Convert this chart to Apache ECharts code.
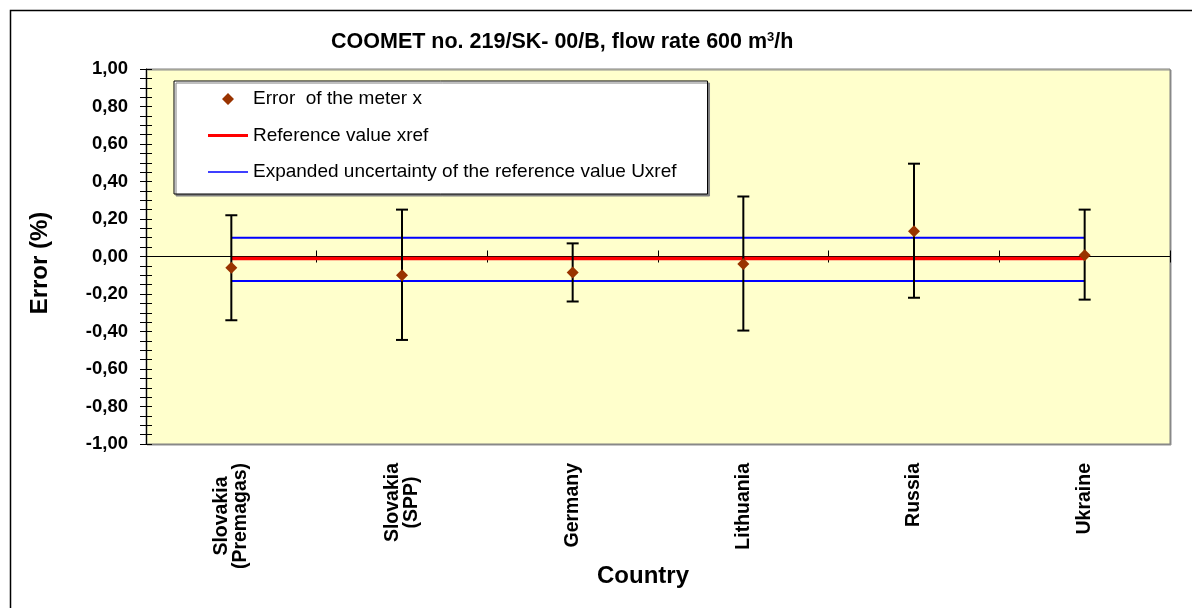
<!DOCTYPE html>
<html>
<head>
<meta charset="utf-8">
<script src="https://cdn.jsdelivr.net/npm/echarts@6/dist/echarts.min.js"></script>
<style>html,body{margin:0;padding:0;background:#fff;}#chart{width:1192px;height:608px;}</style>
</head>
<body>
<div id="chart"></div>
<script>
const categories = ['Slovakia\n(Premagas)', 'Slovakia\n(SPP)', 'Germany', 'Lithuania', 'Russia', 'Ukraine'];
const meterError = [-0.06, -0.10, -0.085, -0.04, 0.135, 0.007];
const errLow = [-0.34, -0.445, -0.24, -0.395, -0.22, -0.23];
const errHigh = [0.22, 0.25, 0.07, 0.32, 0.495, 0.25];
const xrefValues = [-0.01, -0.01, -0.01, -0.01, -0.01, -0.01];
const uxrefUpper = [0.10, 0.10, 0.10, 0.10, 0.10, 0.10];
const uxrefLower = [-0.13, -0.13, -0.13, -0.13, -0.13, -0.13];
const yTicks = { min: -1, max: 1, interval: 0.2 };

const FONT = 'Liberation Sans, Arial, sans-serif';
const NAME_METER = 'Error  of the meter x';
const NAME_REF = 'Reference value xref';
const NAME_U = 'Expanded uncertainty of the reference value Uxref';

// legend icons: tiny corner points keep the 40x12 icon box
const BOX = 'M0,0 L0.01,0 L0,0.01 Z M40,12 L39.99,12 L40,11.99 Z ';
const ICON_DIAMOND = 'path://' + BOX + 'M20,0 L26,6 L20,12 L14,6 Z';
const ICON_RED = 'path://' + BOX + 'M0,4.5 L40,4.5 L40,7.5 L0,7.5 Z';
const ICON_BLUE = 'path://' + BOX + 'M0,5.25 L40,5.25 L40,6.75 L0,6.75 Z';

const chart = echarts.init(document.getElementById('chart'));

const labelRich = {
  p: { width: 106, align: 'center', fontSize: 19.5, fontWeight: 'bold', fontFamily: FONT, color: '#000', lineHeight: 19 },
  s: { width: 79, align: 'center', fontSize: 19.5, fontWeight: 'bold', fontFamily: FONT, color: '#000', lineHeight: 19 }
};

function catAxis(extra) {
  return Object.assign({
    type: 'category',
    data: categories,
    position: 'bottom',
    boundaryGap: true,
    splitLine: { show: false }
  }, extra);
}

const option = {
  animation: false,
  backgroundColor: '#ffffff',
  title: {
    text: 'COOMET no. 219/SK- 00/B, flow rate 600 m{sup|3}/h',
    left: 331,
    top: 31,
    padding: 0,
    textStyle: {
      fontSize: 21.5, fontWeight: 'bold', fontFamily: FONT, color: '#000',
      rich: {
        sup: { fontSize: 13, fontWeight: 'bold', fontFamily: FONT, color: '#000', verticalAlign: 'top', lineHeight: 13 }
      }
    }
  },
  legend: {
    left: 174,
    top: 81,
    orient: 'vertical',
    padding: [7, 31, 11, 34],
    itemGap: 14.5,
    itemWidth: 40,
    itemHeight: 12,
    backgroundColor: '#ffffff',
    borderColor: '#000000',
    borderWidth: 1,
    shadowColor: '#808080',
    shadowOffsetX: 2,
    shadowOffsetY: 2,
    shadowBlur: 0,
    selectedMode: false,
    itemStyle: { borderWidth: 0 },
    textStyle: { fontSize: 19, fontFamily: FONT, color: '#000', lineHeight: 22 },
    data: [
      { name: NAME_METER, icon: ICON_DIAMOND, itemStyle: { color: '#993300', opacity: 1, borderWidth: 0 } },
      { name: NAME_REF, icon: ICON_RED, itemStyle: { color: '#FF0000', borderWidth: 0 } },
      { name: NAME_U, icon: ICON_BLUE, itemStyle: { color: '#0000FF', borderWidth: 0 } }
    ]
  },
  grid: {
    left: 146, right: 22, top: 69, bottom: 164,
    show: true,
    backgroundColor: '#FFFFCC',
    borderColor: '#808080',
    borderWidth: 1,
    shadowColor: '#909090',
    shadowOffsetX: 1,
    shadowOffsetY: 1,
    shadowBlur: 0
  },
  xAxis: [
    catAxis({
      axisLine: { show: false, onZero: false },
      axisTick: { show: false },
      axisLabel: {
        interval: 0, rotate: 90, margin: 19,
        fontSize: 19.5, fontWeight: 'bold', fontFamily: FONT, color: '#000', lineHeight: 19,
        rich: labelRich,
        formatter: function (v) {
          const parts = v.split('\n');
          if (parts.length === 1) return v;
          const key = parts.some(p => p.length > 8) ? 'p' : 's';
          return parts.map(p => '{' + key + '|' + p + '}').join('\n');
        }
      }
    }),
    catAxis({
      axisLine: { show: true, onZero: true, lineStyle: { color: '#000', width: 1 } },
      axisTick: { show: true, inside: true, length: 6, interval: 0, lineStyle: { color: '#000', width: 1 } },
      axisLabel: { show: false }
    }),
    catAxis({
      axisLine: { show: true, onZero: true, lineStyle: { color: '#000', width: 1 } },
      axisTick: { show: true, inside: false, length: 6, interval: 0, lineStyle: { color: '#000', width: 1 } },
      axisLabel: { show: false }
    })
  ],
  yAxis: [
    {
      type: 'value',
      min: yTicks.min, max: yTicks.max, interval: yTicks.interval,
      position: 'left',
      axisLine: { show: true, lineStyle: { color: '#000', width: 1 } },
      axisTick: { show: true, inside: false, length: 6, lineStyle: { color: '#000', width: 1 } },
      minorTick: { show: true, splitNumber: 4, length: 6, lineStyle: { color: '#000', width: 1 } },
      splitLine: { show: false },
      axisLabel: {
        margin: 18,
        fontSize: 18.5, fontWeight: 'bold', fontFamily: FONT, color: '#000',
        formatter: function (v) {
          if (Math.abs(v) < 1e-9) v = 0;
          return v.toFixed(2).replace('.', ',');
        }
      }
    },
    {
      type: 'value',
      min: yTicks.min, max: yTicks.max, interval: yTicks.interval,
      position: 'left',
      axisLine: { show: false },
      axisTick: { show: true, inside: true, length: 6, lineStyle: { color: '#000', width: 1 } },
      minorTick: { show: true, splitNumber: 4, length: 6, lineStyle: { color: '#000', width: 1 } },
      splitLine: { show: false },
      axisLabel: { show: false }
    }
  ],
  graphic: [
    {
      type: 'rect', z: -10, silent: true,
      shape: { x: 10.5, y: 10.5, width: 1300, height: 700 },
      style: { fill: 'none', stroke: '#000', lineWidth: 1.5 }
    },
    {
      type: 'text', x: 40, y: 263, rotation: Math.PI / 2, silent: true,
      style: { text: 'Error (%)', font: 'bold 24px ' + FONT, fill: '#000', align: 'center', verticalAlign: 'middle' }
    },
    {
      type: 'text', x: 643, y: 576, silent: true,
      style: { text: 'Country', font: 'bold 24px ' + FONT, fill: '#000', align: 'center', verticalAlign: 'middle' }
    }
  ],
  series: [
    {
      name: NAME_U, type: 'line', data: uxrefUpper, symbol: 'none', z: 2, silent: true,
      lineStyle: { color: '#0000FF', width: 2 }, itemStyle: { color: '#0000FF' }
    },
    {
      name: NAME_U, type: 'line', data: uxrefLower, symbol: 'none', z: 2, silent: true,
      lineStyle: { color: '#0000FF', width: 2 }, itemStyle: { color: '#0000FF' }
    },
    {
      name: NAME_REF, type: 'line', data: xrefValues, symbol: 'none', z: 3, silent: true,
      lineStyle: { color: '#FF0000', width: 3.5 }, itemStyle: { color: '#FF0000' }
    },
    {
      name: 'errorbars', type: 'custom', z: 4, silent: true,
      data: categories.map((c, i) => [i, errLow[i], errHigh[i]]),
      encode: { x: 0, y: [1, 2] },
      renderItem: function (params, api) {
        const lo = api.coord([api.value(0), api.value(1)]);
        const hi = api.coord([api.value(0), api.value(2)]);
        const cap = 6;
        const st = { stroke: '#000', lineWidth: 2 };
        return {
          type: 'group',
          children: [
            { type: 'line', shape: { x1: lo[0], y1: hi[1], x2: lo[0], y2: lo[1] }, style: st },
            { type: 'line', shape: { x1: lo[0] - cap, y1: hi[1], x2: lo[0] + cap, y2: hi[1] }, style: st },
            { type: 'line', shape: { x1: lo[0] - cap, y1: lo[1], x2: lo[0] + cap, y2: lo[1] }, style: st }
          ]
        };
      }
    },
    {
      name: NAME_METER, type: 'scatter', data: meterError, z: 5, silent: true,
      symbol: 'diamond', symbolSize: 12,
      itemStyle: { color: '#993300', opacity: 1 }
    }
  ]
};

chart.setOption(option);
</script>
</body>
</html>
